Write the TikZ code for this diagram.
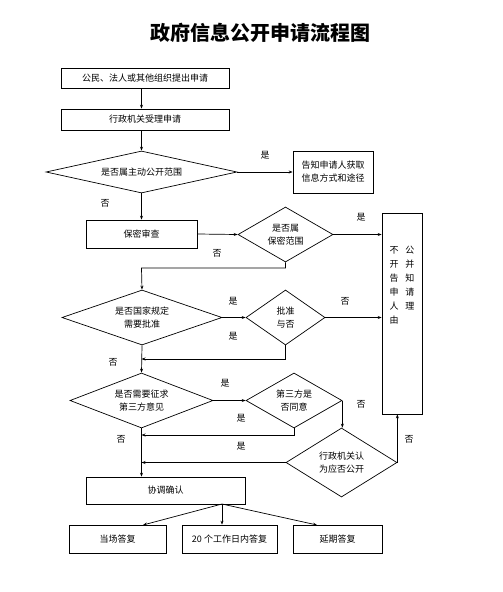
\documentclass[tikz,border=0pt]{standalone}
\usepackage{fontspec}
\setmainfont{Noto Sans CJK SC}
\usetikzlibrary{shapes.geometric,arrows.meta}
\tikzset{
  box/.style={draw,line width=0.7pt,rectangle,inner sep=0pt,align=center,font=\fontsize{9}{13}\selectfont},
  dia/.style={draw,line width=0.7pt,diamond,inner sep=0pt,align=center,font=\fontsize{9}{13}\selectfont},
  lbl/.style={inner sep=0pt,font=\fontsize{9}{11}\selectfont},
  arr/.style={line width=0.7pt,-{Stealth[length=4pt,width=3pt]}},
  ln/.style={line width=0.7pt}
}
\begin{document}
\begin{tikzpicture}[x=1pt,y=-1pt]
\useasboundingbox (0,0) rectangle (503,592);
\node[inner sep=0pt,font=\fontsize{20}{24}\selectfont\bfseries] (title) at (260,33) {政府信息公开申请流程图};

\node[box,minimum width=168pt,minimum height=20pt] (b1) at (145,78) {公民、法人或其他组织提出申请};
\node[box,minimum width=168pt,minimum height=21pt] (b2) at (145,119.5) {行政机关受理申请};
\node[dia,minimum width=191pt,minimum height=42pt,shape aspect=4.5] (d1) at (141.5,172) {是否属主动公开范围};
\node[box,minimum width=80pt,minimum height=42pt] (notify) at (333,172) {告知申请人获取\\信息方式和途径};
\node[box,minimum width=111pt,minimum height=28pt] (secret) at (141.5,234) {保密审查};
\node[dia,minimum width=95pt,minimum height=55pt,shape aspect=1.7] (d2) at (285.5,234.5) {是否属\\保密范围};
\node[box,minimum width=40pt,minimum height=201pt] (tall) at (402,313.5) {};
\node[inner sep=0pt,anchor=north,align=left,font=\fontsize{9}{14}\selectfont] (talltext) at (402,246) {不\hspace{7pt}公\\开\hspace{7pt}并\\告\hspace{7pt}知\\申\hspace{7pt}请\\人\hspace{7pt}理\\由};
\node[dia,minimum width=160pt,minimum height=55pt,shape aspect=2.9] (d3) at (142,317.5) {是否国家规定\\需要批准};
\node[dia,minimum width=79pt,minimum height=55pt,shape aspect=1.44] (d4) at (285.5,317.5) {批准\\与否};
\node[dia,minimum width=143pt,minimum height=55pt,shape aspect=2.6] (d5) at (141.5,400.5) {是否需要征求\\第三方意见};
\node[dia,minimum width=96pt,minimum height=55pt,shape aspect=1.75] (d6) at (294,400.5) {第三方是\\否同意};
\node[dia,minimum width=111pt,minimum height=69pt,shape aspect=1.6] (d7) at (341.5,462.5) {行政机关认\\为应否公开};
\node[box,minimum width=159pt,minimum height=27pt] (coord) at (165.5,490.5) {协调确认};
\node[box,minimum width=97pt,minimum height=28pt] (r1) at (117.5,539) {当场答复};
\node[box,minimum width=95pt,minimum height=28pt] (r2) at (229.5,539) {20 个工作日内答复};
\node[box,minimum width=89pt,minimum height=28pt] (r3) at (337.5,539) {延期答复};

\coordinate (c1) at (285.5,268);
\coordinate (c2) at (141.5,268);
\coordinate (c3) at (285.5,359);
\coordinate (c4) at (141.5,359);
\coordinate (c5) at (294,435);
\coordinate (c6) at (141.5,435);
\coordinate (c7) at (141.5,462.5);
\coordinate (c8) at (222,504);
\coordinate (t1) at (143,525);
\coordinate (t3) at (317,525);

\draw[arr] (b1.south -| d1.north) -- (b2.north -| d1.north);
\draw[arr] (b2.south -| d1.north) -- (d1.north);
\draw[arr] (d1.east) -- (notify.west);
\draw[arr] (d1.south) -- (secret.north);
\draw[arr] (secret.east) -- (d2.west);
\draw[arr] (d2.east) -- (d2.east -| tall.west);
\draw[arr] (d2.south) -- (c1) -- (c2) -- (d3.north);
\draw[arr] (d3.east) -- (d4.west);
\draw[arr] (d4.east) -- (d4.east -| tall.west);
\draw[arr] (d4.south) -- (c3) -- (c4);
\draw[arr] (d3.south) -- (d5.north);
\draw[arr] (d5.east) -- (d6.west);
\draw[arr] (d6.south) -- (c5) -- (c6);
\draw[arr] (d6.east) -- (d6.east |- d7.north);
\draw[arr] (d7.west) -- (c7);
\draw[arr] (d7.east) -- (d7.east |- tall.south);
\draw[arr] (d5.south) -- (d5.south |- coord.north);
\draw[arr] (c8) -- (t1);
\draw[arr] (c8) -- (r2.north -| c8);
\draw[arr] (c8) -- (t3);

\node[lbl] (l1) at (265,155) {是};
\node[lbl] (l2) at (105,203) {否};
\node[lbl] (l3) at (217,253) {否};
\node[lbl] (l4) at (361,217) {是};
\node[lbl] (l5) at (233,301) {是};
\node[lbl] (l6) at (233,336) {是};
\node[lbl] (l7) at (345,301) {否};
\node[lbl] (l8) at (113,362) {否};
\node[lbl] (l9) at (225,383) {是};
\node[lbl] (l10) at (241,418) {是};
\node[lbl] (l11) at (361,404) {否};
\node[lbl] (l12) at (241,446) {是};
\node[lbl] (l13) at (409,439) {否};
\node[lbl] (l14) at (121,439) {否};
\end{tikzpicture}
\end{document}
